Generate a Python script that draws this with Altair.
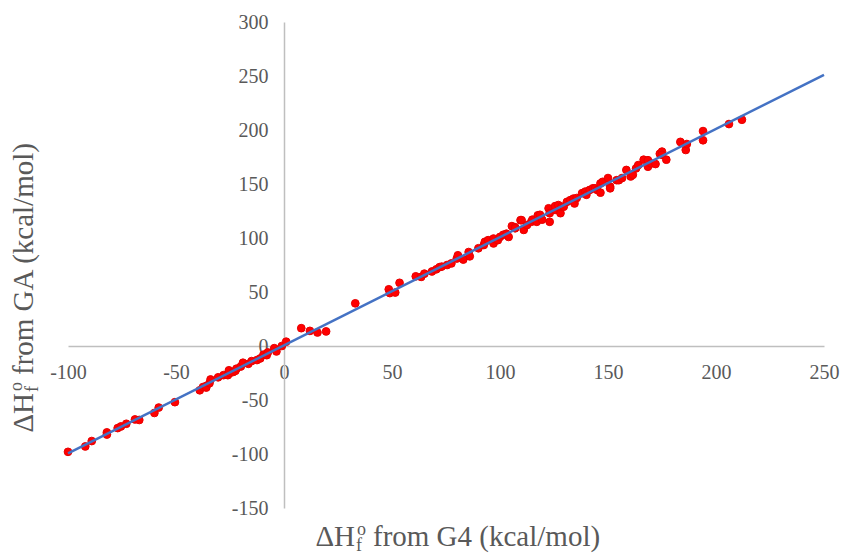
import altair as alt
import pandas as pd

# Heats of formation (kcal/mol): G4 reference vs. GA estimate
g4 = [-100, -92, -89, -82, -82, -77, -75.5, -73, -69, -67, -60, -58, -50.5,
      -39, -37.5, -36, -36, -34.5, -34, -30.5, -28, -26, -25, -25.5, -23.5,
      -22.5, -22, -20, -19, -16.5, -15, -12.5, -11, -9.5, -8, -7.5, -4.5,
      -3.5, -1, 1,
      8, 12, 15.5, 19.5, 33, 48.5, 49, 51.5, 53.5, 61, 63.5, 65, 68.5, 70.5,
      72, 73, 75.5, 77.5, 80, 80.5, 83, 85.5, 86, 90, 92.5, 93, 94.5, 97, 97,
      99, 100, 101.5, 103, 104, 105.5, 107, 107, 109.5, 110, 111, 112.5,
      114.5, 115, 117, 117.5, 118.5, 119.5, 122.5, 123, 123, 125.5, 125.5,
      127, 128, 128.5, 129.5, 131, 132.5, 134, 134.5, 135.5, 138, 139.5, 140,
      141.5, 143, 144, 145, 146.5, 146.5, 147.5, 150, 151, 151, 154, 155,
      156.5, 158.5, 160.5, 161.5, 163, 164, 166.5, 168.5, 168.5, 170, 172,
      174, 175, 175, 177, 183.5, 186, 186.5, 194, 194, 206, 212]
ga = [-98, -93, -88, -80, -82, -76, -74.5, -72, -68, -68.5, -62, -57, -52,
      -41, -38, -37, -38.5, -34.5, -31, -29, -27, -27, -25, -22.5, -24,
      -23, -21, -19, -15.5, -16.5, -14, -13, -11.5, -8, -8.5, -6, -2,
      -5, 0, 4,
      16.5, 14, 12.5, 13.5, 39.5, 52.5, 49, 49.5, 58.5, 64.5, 64, 67, 69, 71,
      73, 73.5, 75, 76.5, 81, 84, 80, 87, 83, 90.5, 93.5, 96.5, 98, 95, 99.5,
      98, 101, 103, 104, 101, 111, 110, 109, 116.5, 116.5, 107.5, 112,
      115, 117, 115, 121, 121.5, 117, 127.5, 115, 123, 126, 129.5,
      130.5, 123, 129, 129, 133.5, 135, 136.5, 132, 137, 141.5, 143, 140,
      144.5, 146, 146, 144.5, 150.5, 142, 152, 155.5, 147.5, 146, 153.5, 153.5,
      155.5, 163, 157, 158.5, 164.5, 167.5, 172.5, 166, 172, 169, 168.5,
      178, 180, 177, 172.5, 189, 181.5, 187, 199, 190.5, 205.5, 209.5]

# Trend line end points
fit_x = [-100, 250]
fit_y = [-99.5, 251]

x_ticks = [-100, -50, 0, 50, 100, 150, 200, 250]
y_ticks = [-150, -100, -50, 0, 50, 100, 150, 200, 250, 300]

W, H = 756, 486
X_DOMAIN = [-100, 250]
Y_DOMAIN = [-150, 300]
SERIF = "Liberation Serif"
GREY_TEXT = "#595959"
AXIS_GREY = "#BFBFBF"
PLAIN_LABEL = "'' + datum.value"   # hyphen-minus rather than U+2212

pts = pd.DataFrame({"g4": g4, "ga": ga})
fit = pd.DataFrame({"g4": fit_x, "ga": fit_y})

# axes cross at the origin: shift them inward by the pixel position of zero
x_zero_px = W * (0 - X_DOMAIN[0]) / (X_DOMAIN[1] - X_DOMAIN[0])
y_zero_px = H * (0 - Y_DOMAIN[0]) / (Y_DOMAIN[1] - Y_DOMAIN[0])

x_enc = alt.X(
    "g4:Q",
    scale=alt.Scale(domain=X_DOMAIN, nice=False, zero=False),
    axis=alt.Axis(values=x_ticks, title=None, offset=-y_zero_px,
                  labelPadding=16, labelFlush=False, labelExpr=PLAIN_LABEL),
)
y_enc = alt.Y(
    "ga:Q",
    scale=alt.Scale(domain=Y_DOMAIN, nice=False, zero=False),
    axis=alt.Axis(values=y_ticks, title=None, offset=-x_zero_px,
                  labelPadding=16, labelFlush=False, labelExpr=PLAIN_LABEL),
)

points = alt.Chart(pts).mark_circle(
    size=60, color="#FF0000", opacity=1, stroke="#E80000", strokeWidth=1
).encode(x=x_enc, y=y_enc)

line = alt.Chart(fit).mark_line(color="#4472C4", strokeWidth=2.5).encode(
    x=alt.X("g4:Q", scale=alt.Scale(domain=X_DOMAIN, nice=False, zero=False)),
    y=alt.Y("ga:Q", scale=alt.Scale(domain=Y_DOMAIN, nice=False, zero=False)),
)


def label(text, x, y, size, align="left", angle=0):
    return alt.Chart(pd.DataFrame({"t": [text]})).mark_text(
        font=SERIF, fontSize=size, color=GREY_TEXT, align=align,
        baseline="alphabetic", angle=angle,
    ).encode(x=alt.value(x), y=alt.value(y), text="t:N")


TITLE = 29
SMALL = 18

# x-axis title: ΔH_f^o from G4 (kcal/mol)
xb = 524   # baseline
xe = 287   # end of "ΔH"
x_title = [
    label("ΔH", xe, xb, TITLE, align="right"),
    label("f", xe + 1, xb + 5, SMALL),
    label("o", xe + 2, xb - 11, SMALL),
    label("from G4 (kcal/mol)", xe + 18, xb, TITLE),
]

# y-axis title, rotated to read upwards
yb = -35   # baseline (x position)
ye = 371   # end of "ΔH"
y_title = [
    label("ΔH", yb, ye, TITLE, align="right", angle=270),
    label("f", yb + 5, ye - 1, SMALL, angle=270),
    label("o", yb - 11, ye - 2, SMALL, angle=270),
    label("from GA (kcal/mol)", yb, ye - 18, TITLE, angle=270),
]

chart = alt.layer(points, line, *x_title, *y_title).properties(
    width=W, height=H,
    autosize=alt.AutoSizeParams(type="none"),
    padding={"left": 68, "top": 22, "right": 20, "bottom": 45},
).configure_view(stroke=None).configure_axis(
    grid=False, ticks=False, tickSize=0,
    domainColor=AXIS_GREY, domainWidth=1.5,
    labelFont=SERIF, labelFontSize=20, labelColor=GREY_TEXT,
    labelOverlap=False,
)

chart.save("out.html", embed_options={"renderer": "svg", "actions": False})
